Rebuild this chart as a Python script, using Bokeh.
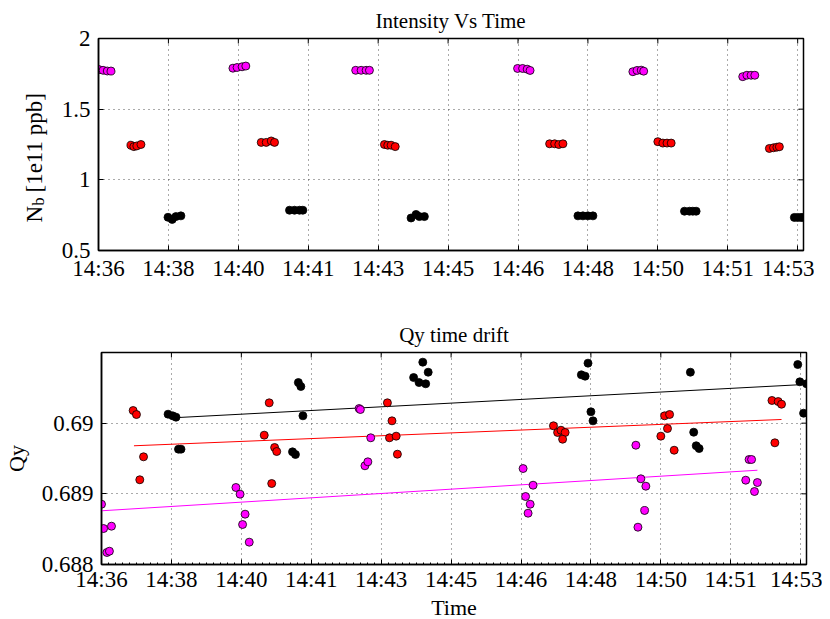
import math
from bokeh.plotting import figure
from bokeh.models import Range1d, FixedTicker, Label
from bokeh.layouts import column, row
from bokeh.embed import file_html
from bokeh.resources import INLINE

# ---------------- data ----------------
# x values: minutes after 14:00
tick_pos = [36.20, 37.88, 39.56, 41.24, 42.92, 44.60, 46.28, 47.96, 49.64, 51.32, 53.00]
tick_lab = ["14:36", "14:38", "14:40", "14:41", "14:43", "14:45", "14:46", "14:48", "14:50", "14:51", "14:53"]

nb_ticks = [0.5, 1.0, 1.5, 2.0]
nb_tick_lab = ["0.5", "1", "1.5", "2"]
q_ticks = [0.688, 0.689, 0.690]
q_tick_lab = ["0.688", "0.689", "0.69"]

t_mag_top = [36.21, 36.31, 36.41, 36.50, 39.43, 39.53, 39.65, 39.74, 42.38, 42.51, 42.63, 42.71,
             46.27, 46.39, 46.50, 46.57, 49.04, 49.14, 49.24, 49.30, 51.68, 51.78, 51.88, 51.97]
nb_mag = [1.78, 1.775, 1.77, 1.77, 1.79, 1.795, 1.80, 1.805, 1.775, 1.775, 1.775, 1.775,
          1.788, 1.788, 1.783, 1.774, 1.765, 1.774, 1.776, 1.769, 1.73, 1.74, 1.74, 1.74]
t_red_top = [36.98, 37.05, 37.12, 37.22, 40.11, 40.23, 40.35, 40.43, 43.07, 43.15, 43.23, 43.33,
             47.04, 47.16, 47.26, 47.36, 49.64, 49.76, 49.86, 49.96, 52.32, 52.42, 52.50, 52.56]
nb_red = [1.245, 1.235, 1.24, 1.25, 1.265, 1.265, 1.275, 1.265, 1.25, 1.245, 1.245, 1.235,
          1.255, 1.255, 1.25, 1.255, 1.27, 1.26, 1.26, 1.26, 1.222, 1.227, 1.231, 1.234]
t_blk_top = [37.87, 37.97, 38.06, 38.18, 40.79, 40.91, 41.03, 41.11, 43.71, 43.83, 43.91, 44.03,
             47.72, 47.84, 47.96, 48.08, 50.28, 50.40, 50.48, 50.56, 52.92, 53.00, 53.08, 53.14]
nb_blk = [0.735, 0.72, 0.74, 0.745, 0.785, 0.785, 0.785, 0.785, 0.73, 0.755, 0.74, 0.74,
          0.745, 0.745, 0.745, 0.745, 0.778, 0.778, 0.778, 0.778, 0.734, 0.734, 0.734, 0.734]

t_mag_q = [36.20, 36.25, 36.44, 36.33, 36.39, 39.43, 39.53, 39.65, 39.59, 39.75,
           42.39, 42.42, 42.67, 42.53, 42.60, 46.33, 46.57, 46.39, 46.50, 46.45,
           49.04, 49.16, 49.28, 49.25, 49.09, 51.76, 51.82, 51.68, 51.96, 51.89]
q_mag = [0.688853, 0.688509, 0.688542, 0.688170, 0.688188, 0.689090, 0.688995, 0.688712, 0.688566, 0.688316,
         0.690207, 0.690193, 0.689793, 0.689397, 0.689453, 0.689358, 0.689122, 0.688962, 0.688853, 0.688726,
         0.689688, 0.689213, 0.689108, 0.688764, 0.688528, 0.689486, 0.689486, 0.689193, 0.689160, 0.689033]
t_red_q = [36.96, 37.04, 37.21, 37.12, 40.23, 40.11, 40.36, 40.41, 40.29,
           43.07, 43.18, 43.12, 43.28, 43.31, 47.06, 47.16, 47.24, 47.34, 47.28,
           49.73, 49.85, 49.80, 49.64, 49.96, 52.31, 52.46, 52.54, 52.38]
q_red = [0.690179, 0.690122, 0.689524, 0.689199, 0.690288, 0.689830, 0.689656, 0.689599, 0.689146,
         0.690288, 0.690033, 0.689793, 0.689816, 0.689561, 0.689963, 0.689868, 0.689900, 0.689868, 0.689773,
         0.690104, 0.690123, 0.689924, 0.689816, 0.689617, 0.690321, 0.690306, 0.690268, 0.689722]
t_blk_q = [37.80, 37.91, 37.99, 38.05, 38.11, 40.93, 40.99, 41.04, 40.79, 40.86,
           43.70, 43.83, 43.99, 43.92, 44.05, 47.89, 47.73, 47.82, 47.96, 48.01,
           50.35, 50.43, 50.49, 50.56, 52.93, 52.98, 53.14, 53.07]
q_blk = [0.690127, 0.690104, 0.690085, 0.689632, 0.689632, 0.690575, 0.690519, 0.690104, 0.689594, 0.689557,
         0.690646, 0.690575, 0.690557, 0.690863, 0.690721, 0.690849, 0.690684, 0.690665, 0.690161, 0.690033,
         0.690721, 0.689872, 0.689680, 0.689641, 0.690830, 0.690585, 0.690557, 0.690141]

fit_t_mag = [36.20, 51.96]
fit_q_mag = [0.688760, 0.689334]
fit_t_red = [36.98, 52.54]
fit_q_red = [0.689680, 0.690052]
fit_t_blk = [38.05, 53.14]
fit_q_blk = [0.690080, 0.690549]

FONT = "Liberation Serif"
X_START, X_END = 36.20, 53.14
TOP_H = 299


def style(p, ytick_pos, ytick_lab, y_end, minor=False, x_standoff=5):
    step = tick_pos[1] - tick_pos[0]
    minors = []
    if minor:
        for k in range(len(tick_pos)):
            for j in range(1, 10):
                minors.append(tick_pos[k] + step * j / 10.0)
    p.xaxis.ticker = FixedTicker(ticks=tick_pos, minor_ticks=minors)
    p.yaxis.ticker = FixedTicker(ticks=ytick_pos)
    p.xaxis.major_label_overrides = {t: l for t, l in zip(tick_pos, tick_lab)}
    p.yaxis.major_label_overrides = {t: l for t, l in zip(ytick_pos, ytick_lab)}
    for ax in list(p.xaxis) + list(p.yaxis):
        ax.axis_line_color = "black"
        ax.axis_line_width = 1.5
        ax.major_tick_line_color = "black"
        ax.major_tick_in = 5
        ax.major_tick_out = 0
        ax.minor_tick_line_color = "black" if minor else None
        ax.minor_tick_in = 2
        ax.minor_tick_out = 0
        ax.major_label_text_font = FONT
        ax.major_label_text_font_size = "23px"
        ax.major_label_text_color = "black"
        ax.axis_label_text_font = FONT
        ax.axis_label_text_font_size = "22px"
        ax.axis_label_text_font_style = "normal"
        ax.axis_label_text_color = "black"
    p.yaxis.minor_tick_line_color = None
    p.yaxis.major_label_standoff = 8
    p.xaxis.major_label_standoff = x_standoff

    p.xgrid.ticker = FixedTicker(ticks=tick_pos)
    p.ygrid.ticker = FixedTicker(ticks=ytick_pos)
    for g in (p.xgrid, p.ygrid):
        g.grid_line_color = "#555555"
        g.grid_line_dash = "1 4"
        g.grid_line_width = 1
    p.outline_line_color = "black"
    p.outline_line_width = 1.5
    p.title.align = "center"
    p.title.text_font = FONT
    p.title.text_font_size = "21px"
    p.title.text_font_style = "normal"
    p.title.text_color = "black"
    p.title.standoff = 12

    # inward ticks on the top and right edges of the box (half of each dash is clipped)
    p.scatter(tick_pos, [y_end] * len(tick_pos), marker="dash", angle=math.pi / 2, size=10,
              line_color="black", line_width=1)
    p.scatter([X_END] * len(ytick_pos), ytick_pos, marker="dash", size=10,
              line_color="black", line_width=1)


# ---------------- y label panel for the top chart (N_b with subscript) ----------------
lab = figure(frame_width=48, frame_height=TOP_H, x_range=Range1d(0, 48), y_range=Range1d(0, TOP_H),
             x_axis_type=None, y_axis_type=None, toolbar_location=None, output_backend="svg",
             min_border=0, outline_line_color=None, background_fill_color="white",
             border_fill_color="white")
lab.xgrid.visible = False
lab.ygrid.visible = False
lab_kw = dict(x_units="data", y_units="data", angle=math.pi / 2, text_font=FONT,
              text_color="black", text_baseline="alphabetic", text_align="left")
lab.add_layout(Label(x=34, y=115, text="N", text_font_size="23px", **lab_kw))
lab.add_layout(Label(x=37.5, y=132, text="b", text_font_size="16px", **lab_kw))
lab.add_layout(Label(x=34, y=145, text="[1e11 ppb]", text_font_size="23px", **lab_kw))

# ---------------- top figure ----------------
p1 = figure(frame_width=705, frame_height=212, x_range=Range1d(X_START, X_END),
            y_range=Range1d(0.5, 2.0), output_backend="svg", toolbar_location=None,
            title="Intensity Vs Time", min_border_left=50, min_border_right=11,
            min_border_top=37, min_border_bottom=50, background_fill_color="white",
            border_fill_color="white")
style(p1, nb_ticks, nb_tick_lab, 2.0, x_standoff=5)
p1.scatter(t_mag_top, nb_mag, size=8, fill_color="#ff00ff", line_color="black", line_width=0.8)
p1.scatter(t_red_top, nb_red, size=8, fill_color="#ff0000", line_color="black", line_width=0.8)
p1.scatter(t_blk_top, nb_blk, size=8, fill_color="black", line_color="black", line_width=0.8)

# ---------------- bottom figure ----------------
p2 = figure(frame_width=705, frame_height=212, x_range=Range1d(X_START, X_END),
            y_range=Range1d(0.688, 0.691), output_backend="svg", toolbar_location=None,
            title="Qy time drift", min_border_left=93, min_border_right=16,
            min_border_top=52, min_border_bottom=52, background_fill_color="white",
            border_fill_color="white", x_axis_label="Time", y_axis_label="Qy")
style(p2, q_ticks, q_tick_lab, 0.691, minor=True, x_standoff=2)
p2.xaxis.axis_label_standoff = 0
p2.yaxis.axis_label_standoff = 10
p2.line(fit_t_blk, fit_q_blk, line_color="black", line_width=1)
p2.line(fit_t_red, fit_q_red, line_color="#ff0000", line_width=1)
p2.line(fit_t_mag, fit_q_mag, line_color="#ff00ff", line_width=1)
p2.scatter(t_mag_q, q_mag, size=8, fill_color="#ff00ff", line_color="black", line_width=0.8)
p2.scatter(t_red_q, q_red, size=8, fill_color="#ff0000", line_color="black", line_width=0.8)
p2.scatter(t_blk_q, q_blk, size=8, fill_color="black", line_color="black", line_width=0.8)

layout = column(row(lab, p1, spacing=0), p2, spacing=0)
open("out.html", "w").write(file_html(layout, INLINE))
